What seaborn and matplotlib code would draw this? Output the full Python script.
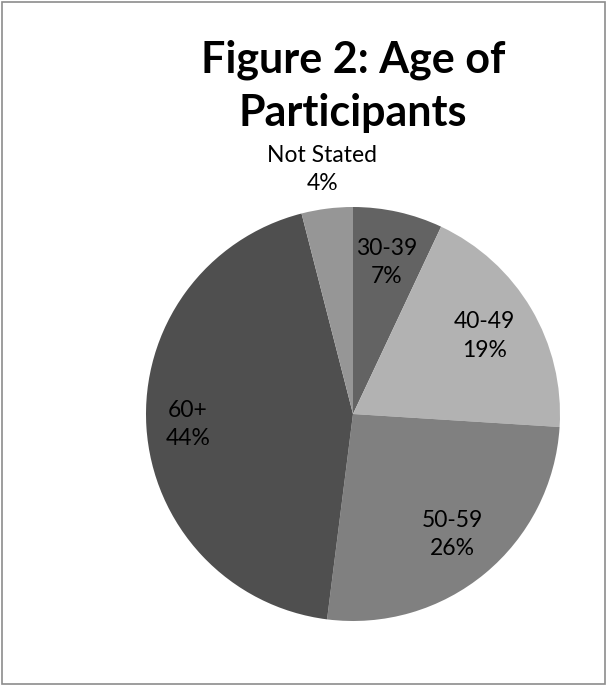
import numpy as np
import seaborn as sns
import matplotlib.pyplot as plt
from matplotlib.patches import Rectangle

# data (clockwise from 12 o'clock)
categories = ['30-39', '40-49', '50-59', '60+', 'Not Stated']
percents = [7, 19, 26, 44, 4]
colors = ['#636363', '#b2b2b2', '#808080', '#4f4f4f', '#969696']

sns.set_style('white')
plt.rcParams['font.family'] = ['Lato', 'DejaVu Sans']

fig = plt.figure(figsize=(6.07, 6.86), dpi=100)
W, H = 607, 686
cx, cy, r = 353, 414, 207
ax = fig.add_axes([(cx - r) / W, (H - cy - r) / H, 2 * r / W, 2 * r / H])

wedges, _ = ax.pie(percents, colors=colors, startangle=90, counterclock=False,
                   wedgeprops=dict(linewidth=0))
ax.set_xlim(-1, 1)
ax.set_ylim(-1, 1)
ax.axis('off')

# label distance from centre, per slice
dist = [0.75, 0.74, 0.755, 0.80, 1.19]
for w, cat, p, d in zip(wedges, categories, percents, dist):
    ang = np.deg2rad((w.theta1 + w.theta2) / 2)
    ax.text(d * np.cos(ang), d * np.sin(ang), f'{cat}\n{p}%',
            ha='center', va='center', fontsize=16.5, linespacing=1.45,
            color='black')

fig.text(cx / W, 1 - 86 / H, 'Figure 2: Age of\nParticipants', ha='center',
         va='center', fontsize=31, fontweight='bold', linespacing=1.38,
         color='black')

fig.patches.append(Rectangle((2 / W, 2 / H), 1 - 4 / W, 1 - 4 / H,
                             transform=fig.transFigure, fill=False,
                             edgecolor='#8c8c8c', linewidth=1.2))

fig.savefig('out.png', dpi=100)
